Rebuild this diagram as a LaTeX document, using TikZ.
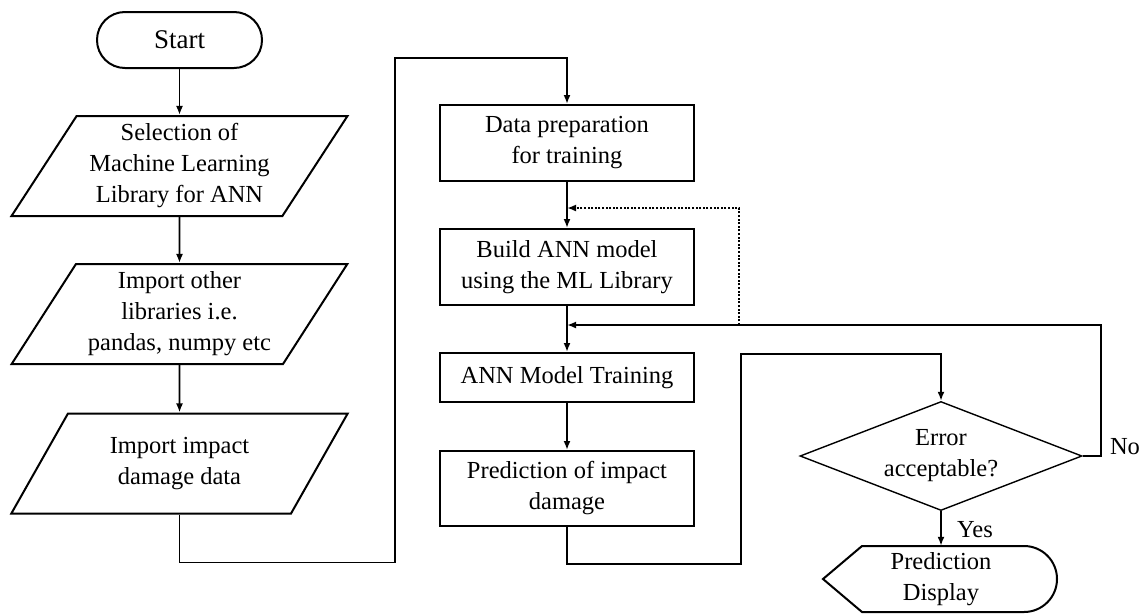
\documentclass[tikz,border=0pt]{standalone}
\usepackage{fontspec}
\setmainfont{Liberation Serif}
\usetikzlibrary{arrows.meta,shapes.geometric}

\begin{document}
\begin{tikzpicture}[x=1pt,y=-1pt,
  every node/.style={font=\fontsize{24.5}{31}\selectfont, align=center},
  base/.style={draw, line width=2pt, inner sep=0pt},
  term/.style={base, rounded corners=27.9pt, minimum width=165pt, minimum height=56pt,
    font=\fontsize{27}{31}\selectfont},
  io/.style={base, trapezium, trapezium left angle=56, trapezium right angle=124,
    trapezium stretches=true, minimum width=337pt, minimum height=100pt},
  proc/.style={base, rectangle, minimum width=254pt},
  decide/.style={draw, line width=1.4pt, diamond, aspect=2.6, inner sep=0pt,
    minimum width=282pt, minimum height=109pt},
  flow/.style={line width=1.8pt, -{Latex[length=9pt,width=7pt]}},
  loopback/.style={flow, dash pattern=on 2pt off 1.6pt}
]
  \useasboundingbox (0,0) rectangle (1146,614);

  % left column
  \node[term] (start) at (179.5,40) {Start};
  \node[io] (sel) at (179.5,166) {Selection of\\Machine Learning\\Library for ANN};
  \node[io] (imp) at (179.5,314) {Import other\\libraries i.e.\\pandas, numpy etc};
  \node[io] (dat) at (179.5,463.5) {Import impact\\damage data};

  % middle column
  \node[proc, minimum height=76pt] (prep) at (567,143) {Data preparation\\for training};
  \node[proc, minimum height=76pt] (build) at (567,267) {Build ANN model\\using the ML Library};
  \node[proc, minimum height=49pt] (train) at (567,377.5) {ANN Model Training};
  \node[proc, minimum height=75pt] (pred) at (567,488.5) {Prediction of impact\\damage};

  % right column
  \node[decide] (err) at (941,456) {Error\\acceptable?};
  \node[minimum height=66pt, inner sep=0pt] (disp) at (941,579) {Prediction\\Display};
  \draw[base] (823,579) -- (862,546) -- (1024,546)
    arc[start angle=-90, end angle=90, radius=33] -- (862,612) -- cycle;
  \node (yes) at (975,530) {Yes};
  \node (no) at (1125,447) {No};

  \coordinate (nojoin) at (567,325);
  \coordinate (dotfoot) at (739,325);
  \coordinate (dotjoin) at (567,208);

  % connectors
  \draw[flow] (start) -- (sel);
  \draw[flow] (sel) -- (imp);
  \draw[flow] (imp) -- (dat);
  \draw[flow] (dat.south) -- ++(0,48) -| (395,58) -| (prep.north);
  \draw[flow] (prep) -- (build);
  \draw[flow] (build) -- (train);
  \draw[flow] (train) -- (pred);
  \draw[flow] (pred.south) -- ++(0,37) -| (741,354) -| (err.north);
  \draw[flow] (err.east) -- ++(18,0) |- (nojoin);
  \draw[loopback] (dotfoot) |- (dotjoin);
  \draw[flow] (err.south) -- (disp.north);
\end{tikzpicture}
\end{document}
